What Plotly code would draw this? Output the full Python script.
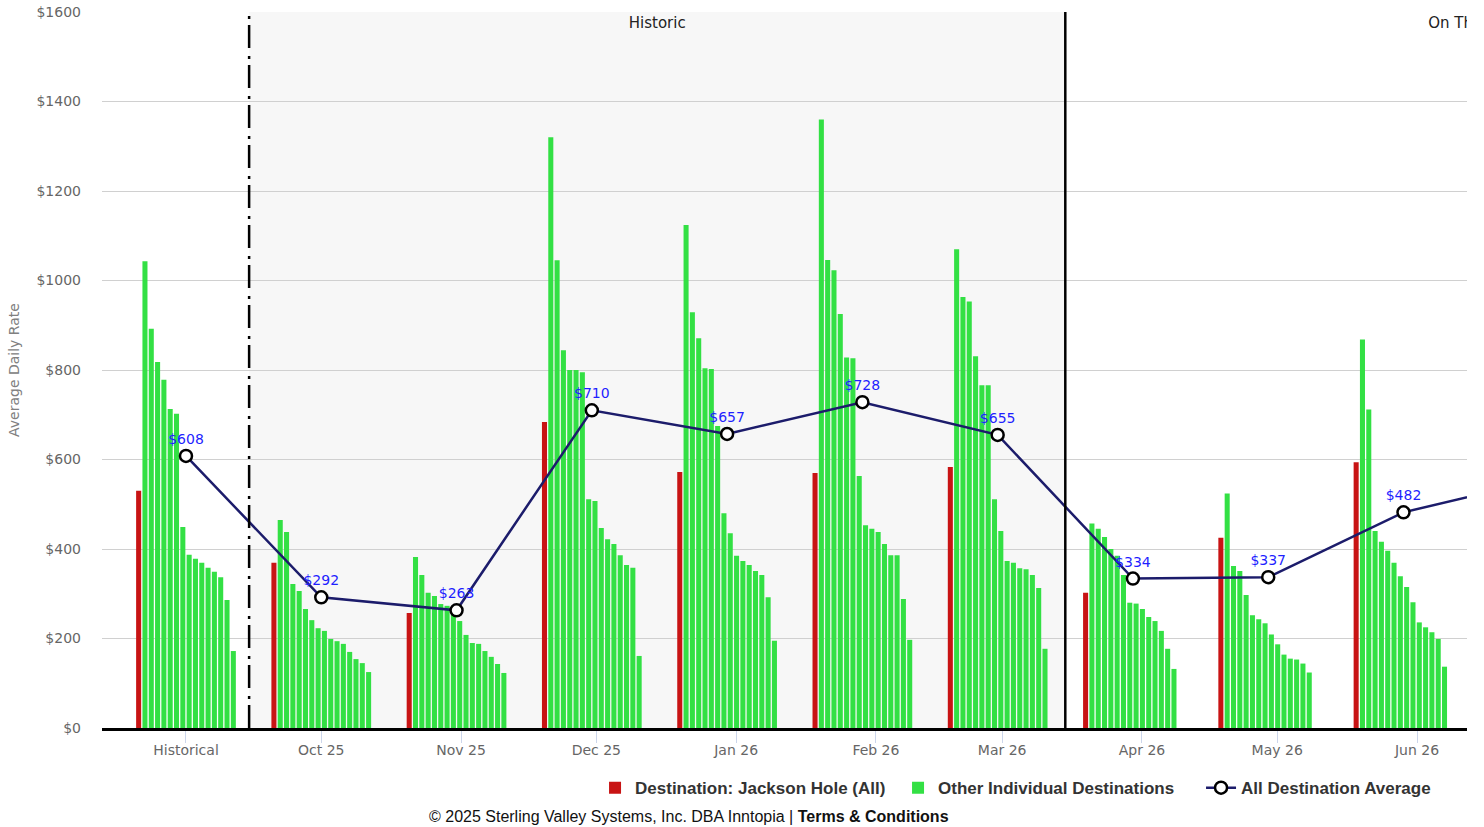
import plotly.graph_objects as go
from datetime import datetime

# ---------------- data ----------------
periods = ["2025-09-01", "2025-10-01", "2025-10-31", "2025-11-30", "2025-12-30",
           "2026-01-29", "2026-02-28", "2026-03-30", "2026-04-29", "2026-05-29"]
avg_periods = periods + ["2026-06-28"]

tick_dates = ["2025-09-01", "2025-10-01", "2025-11-01", "2025-12-01", "2026-01-01",
              "2026-02-01", "2026-03-01", "2026-04-01", "2026-05-01", "2026-06-01"]
tick_labels = ["Historical", "Oct 25", "Nov 25", "Dec 25", "Jan 26",
               "Feb 26", "Mar 26", "Apr 26", "May 26", "Jun 26"]

y_ticks = [0, 200, 400, 600, 800, 1000, 1200, 1400, 1600]
y_tick_labels = ["$0", "$200", "$400", "$600", "$800", "$1000", "$1200", "$1400", "$1600"]

jackson_hole = [530, 369, 257, 684, 572, 570, 583, 302, 425, 594]

other_hist = [1043, 892, 818, 778, 713, 702, 449, 387, 378, 369, 358, 349, 337, 286, 172]
other_oct = [465, 438, 322, 306, 266, 241, 223, 217, 199, 194, 188, 170, 154, 145, 125]
other_nov = [382, 342, 302, 295, 277, 273, 264, 239, 208, 190, 188, 172, 159, 143, 123]
other_dec = [1320, 1045, 844, 800, 800, 795, 511, 507, 447, 422, 411, 386, 364, 358, 161]
other_jan = [1124, 929, 871, 804, 802, 675, 480, 435, 385, 373, 364, 351, 342, 292, 195]
other_feb = [1360, 1046, 1023, 925, 828, 826, 563, 453, 445, 438, 411, 386, 386, 288, 197]
other_mar = [1070, 963, 953, 831, 766, 766, 511, 440, 373, 369, 357, 355, 342, 313, 177]
other_apr = [457, 445, 427, 400, 385, 342, 280, 278, 266, 248, 239, 217, 177, 132, None]
other_may = [524, 362, 351, 297, 252, 243, 234, 209, 187, 164, 155, 153, 144, 124, None]
other_jun = [868, 712, 440, 416, 396, 369, 339, 315, 281, 236, 225, 214, 199, 137, None]

all_dest_avg = [608, 292, 263, 710, 657, 728, 655, 334, 337, 482, 554]
avg_labels = ["$608", "$292", "$263", "$710", "$657", "$728", "$655", "$334", "$337", "$482", ""]

band_starts = ["2025-09-15", "2026-03-15"]
band_ends = ["2026-03-15", "2026-09-15"]
band_labels = ["Historic", "On The Books"]
band_label_y = 1590

x_range = ["2025-08-13 09:00", "2026-06-12 02:00"]

# ---------------- styles ----------------
RED = "#c81414"
GREEN = "#33e044"
LINE = "#1c1c6b"
AXIS_FONT = "DejaVu Sans"

others_by_period = [other_hist, other_oct, other_nov, other_dec, other_jan,
                    other_feb, other_mar, other_apr, other_may, other_jun]

fig = go.Figure()

fig.add_trace(go.Bar(
    x=periods, y=jackson_hole, name="Destination: Jackson Hole (All)",
    marker=dict(color=RED, line=dict(width=0)), hoverinfo="skip",
))

for rank in range(15):
    fig.add_trace(go.Bar(
        x=periods, y=[p[rank] for p in others_by_period],
        name="Other Individual Destinations", legendgroup="other",
        showlegend=(rank == 0),
        marker=dict(color=GREEN, line=dict(width=0)), hoverinfo="skip",
    ))

fig.add_trace(go.Scatter(
    x=avg_periods, y=all_dest_avg, name="All Destination Average",
    mode="lines+markers+text",
    text=avg_labels, textposition="top center",
    textfont=dict(family=AXIS_FONT, size=14, color="#1f1fff"),
    line=dict(color=LINE, width=2.5),
    marker=dict(symbol="circle", size=12, color="white", line=dict(color="black", width=2.5)),
    cliponaxis=True, hoverinfo="skip",
))

# band labels (clipped to plot area)
def mid(a, b):
    da, db = datetime.fromisoformat(a), datetime.fromisoformat(b)
    return (da + (db - da) / 2).strftime("%Y-%m-%d %H:%M")

fig.add_trace(go.Scatter(
    x=[mid(s, e) for s, e in zip(band_starts, band_ends)], y=[band_label_y] * 2,
    mode="text", text=band_labels, textposition="bottom center",
    textfont=dict(family=AXIS_FONT, size=15, color="#222"),
    showlegend=False, cliponaxis=True, hoverinfo="skip",
))

# shaded historic band and separators
fig.add_shape(type="rect", xref="x", yref="paper", x0=band_starts[0], x1=band_ends[0],
              y0=0, y1=1, fillcolor="#f7f7f7", line_width=0, layer="below")
fig.add_shape(type="line", xref="x", yref="paper", x0=band_starts[0], x1=band_starts[0],
              y0=0, y1=1, line=dict(color="black", width=2.5, dash="23px,6px,3px,8px"))
fig.add_shape(type="line", xref="x", yref="paper", x0=band_starts[1], x1=band_starts[1],
              y0=0, y1=1, line=dict(color="black", width=2.5))

fig.add_annotation(
    xref="paper", yref="paper", x=0.4304, y=-0.1243, xanchor="center", yanchor="middle",
    text="© 2025 Sterling Valley Systems, Inc. DBA Inntopia | <b>Terms &amp; Conditions</b>",
    showarrow=False, font=dict(family="Liberation Sans", size=16, color="#111"),
)

fig.update_layout(
    width=1484, height=827,
    margin=dict(l=102, r=17, t=12, b=99, autoexpand=False),
    paper_bgcolor="white", plot_bgcolor="white",
    barmode="group", bargap=0.2535, bargroupgap=0.2,
    showlegend=True,
    legend=dict(orientation="h", x=0.3612, xanchor="left", y=-0.084, yanchor="middle",
                entrywidth=258, entrywidthmode="pixels",
                font=dict(family="Liberation Sans", size=17, color="#333", weight="bold"),
                bgcolor="rgba(0,0,0,0)", traceorder="normal"),
    xaxis=dict(
        type="date", range=x_range, tickmode="array", tickvals=tick_dates, ticktext=tick_labels,
        showgrid=False, showline=True, linecolor="black", linewidth=3,
        ticks="outside", ticklen=12, tickcolor="#ccd6eb", tickwidth=1, ticklabelstandoff=-5,
        tickfont=dict(family=AXIS_FONT, size=14, color="#666"), zeroline=False, automargin=False,
    ),
    yaxis=dict(
        range=[0, 1600], tickmode="array", tickvals=y_ticks, ticktext=y_tick_labels,
        showgrid=True, gridcolor="#d0d0d0", gridwidth=1,
        zeroline=False, showline=False, ticks="", ticklabelstandoff=20, automargin=False,
        tickfont=dict(family=AXIS_FONT, size=14, color="#666"),
        title=dict(text="Average Daily Rate", standoff=13,
                   font=dict(family=AXIS_FONT, size=14, color="#808080")),
    ),
)

fig.write_html("out.html", config={"displayModeBar": False},
               post_script="document.body.style.margin='0';")
